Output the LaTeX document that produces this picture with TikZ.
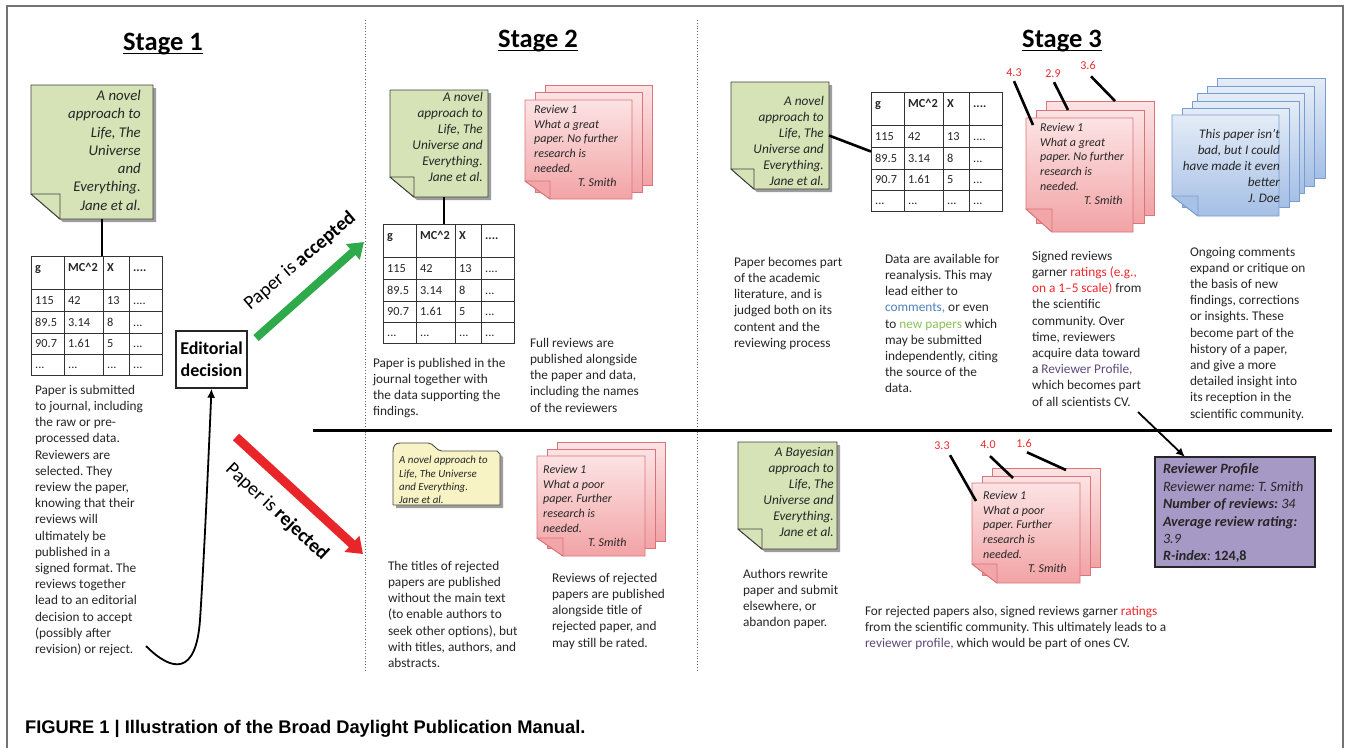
\documentclass[tikz,border=0pt]{standalone}
\usepackage{fontspec}
\setmainfont{Carlito}
\newfontfamily\capfont{Liberation Sans}
\usetikzlibrary{arrows.meta,shadows,fit}
\frenchspacing

\definecolor{notegreen}{HTML}{D5E3B6}
\definecolor{pinktop}{HTML}{FCE3E4}
\definecolor{pinkbot}{HTML}{F2A3A5}
\definecolor{pinkline}{HTML}{D9747A}
\definecolor{bluetop}{HTML}{E4ECF7}
\definecolor{bluebot}{HTML}{A5BFE5}
\definecolor{blueline}{HTML}{7A9DD1}
\definecolor{folderyellow}{HTML}{F7F3C4}
\definecolor{profilefill}{HTML}{A699C5}
\definecolor{acceptgreen}{HTML}{2EAA4A}
\definecolor{rejectred}{HTML}{E8262A}
\definecolor{ratingred}{HTML}{F0282D}
\definecolor{linkblue}{HTML}{4F81BD}
\definecolor{linkgreen}{HTML}{8DC05A}
\definecolor{linkpurple}{HTML}{604A7B}
\definecolor{bodytext}{HTML}{262626}

\newcommand\fs[2]{\fontsize{#1}{#2}\selectfont}

% sheet of paper with a folded bottom-left corner, drawn around a node
\newcommand\foldsheet[5]{%
  \path[#2] (#1.north west) -- (#1.north east) -- (#1.south east)
    -- ([xshift=#4]#1.south west) -- ([yshift=#5]#1.south west) -- cycle;
  \path[#3] ([yshift=#5]#1.south west) -- ([xshift=#4,yshift=#5]#1.south west)
    -- ([xshift=#4]#1.south west) -- cycle;
}

% one row of a data table
\newcommand\tabrow[7]{%
  \node[cell] (#1-#2a) at ([xshift=4pt,yshift=-#3pt]#1.north west) {#4};
  \node[cell] (#1-#2b) at ([xshift=37pt,yshift=-#3pt]#1.north west) {#5};
  \node[cell] (#1-#2c) at ([xshift=76pt,yshift=-#3pt]#1.north west) {#6};
  \node[cell] (#1-#2d) at ([xshift=102pt,yshift=-#3pt]#1.north west) {#7};
}

% the small data table
\newcommand\datatable[3]{%
  \node[fit={(#2,#3) (#2+131,#3+119)}, box, draw=black!80, line width=1pt] (#1) {};
  \foreach \cx in {33,72,98}
    \draw[black!80, line width=1pt] ([xshift=\cx pt]#1.north west) -- ([xshift=\cx pt]#1.south west);
  \foreach \ry in {33,55,77,98}
    \draw[black!80, line width=1pt] ([yshift=-\ry pt]#1.north west) -- ([yshift=-\ry pt]#1.north east);
  \tabrow{#1}{h}{15}{\textbf{g}}{\textbf{MC\textasciicircum 2}}{\textbf{X}}{\textbf{....}}
  \tabrow{#1}{r1}{48}{115}{42}{13}{....}
  \tabrow{#1}{r2}{70}{89.5}{3.14}{8}{...}
  \tabrow{#1}{r3}{91.5}{90.7}{1.61}{5}{...}
  \tabrow{#1}{r4}{112.5}{...}{...}{...}{...}
}

\tikzset{
  box/.style={inner sep=0pt, outer sep=0pt},
  cell/.style={inner sep=0pt, anchor=base west, text=bodytext, font=\fs{12.3}{14}},
  txt/.style={inner sep=0pt, outer sep=0pt, align=left, anchor=north west, text=bodytext, font=\fs{13.3}{16.2}},
  notetxt/.style={inner sep=0pt, align=right, anchor=north east, text=bodytext, font=\fs{13.3}{16}\itshape},
  revtxt/.style={inner sep=0pt, align=left, anchor=north west, text=bodytext, font=\fs{12}{14.7}\itshape},
  stagetitle/.style={inner sep=0pt, anchor=base, font=\fs{26.5}{30}\bfseries},
  notefill/.style={fill=notegreen, draw=black!75, line width=0.9pt, line join=round,
    drop shadow={shadow xshift=3pt, shadow yshift=-3pt, fill=black!45, opacity=.85}},
  notefold/.style={fill=notegreen, draw=black!75, line width=0.9pt, line join=round},
  pinksheet/.style={top color=pinktop, bottom color=pinkbot, draw=pinkline, line width=0.9pt},
  pinkfold/.style={fill=pinkbot!95!pinktop, draw=pinkline, line width=0.9pt, line join=round},
  bluesheet/.style={top color=bluetop, bottom color=bluebot, draw=blueline, line width=0.9pt},
  bluefold/.style={fill=bluebot!95!bluetop, draw=blueline, line width=0.9pt, line join=round},
  link/.style={line width=2.6pt, black},
  rating/.style={inner sep=0pt, text=ratingred, font=\fs{12}{14}},
  thinarrow/.style={line width=1.8pt, black, -{Latex[length=9pt,width=8pt]}},
}

\begin{document}
\begin{tikzpicture}[x=1pt,y=-1pt]
\useasboundingbox (0,0) rectangle (1350,748);
\fill[white] (0,0) rectangle (1350,748);

% outer frame, separators
\draw[black!55, line width=1.6pt] (7,748) -- (7,6) -- (1343,6) -- (1343,748);
\draw[black!60, dotted, line width=0.8pt] (365,20) -- (365,672);
\draw[black!60, dotted, line width=0.8pt] (697,20) -- (697,672);
\draw[black, line width=3pt] (313,430) -- (1332,430);

% stage titles
\node[stagetitle] (st1) at (163,50) {Stage 1};
\node[stagetitle] (st2) at (538,47) {Stage 2};
\node[stagetitle] (st3) at (1062,47) {Stage 3};
\foreach \s in {st1,st2,st3}
  \draw[line width=1.8pt] ([yshift=-3.5pt]\s.base west) -- ([yshift=-3.5pt]\s.base east);

% ---------------- Stage 1 ----------------
\node[fit={(31,85) (153,219)}, box] (n1) {};
\foldsheet{n1}{notefill}{notefold}{29pt}{25pt}
\node[notetxt, font=\fs{14.8}{18.3}\itshape] (n1t) at (141,90)
  {A novel\\approach to\\Life, The\\Universe\\and\\Everything.\\Jane et al.};
\datatable{tab1}{31}{256}
\draw[link] ([xshift=10pt]n1.south) -- ([xshift=10pt]n1.south |- tab1.north);

\node[txt] (t1) at (35,385) {Paper is submitted\\to journal, including\\the raw or pre-\\processed data.\\Reviewers are\\selected. They\\review the paper,\\knowing that their\\reviews will\\ultimately be\\published in a\\signed format. The\\reviews together\\lead to an editorial\\decision to accept\\(possibly after\\revision) or reject.};

\node[draw=black!85, line width=1.4pt, minimum width=71pt, minimum height=57pt, inner sep=0pt,
      align=center, font=\fs{18}{22}\bfseries] (ed) at (211.5,359.5) {Editorial\\decision};

\coordinate (loopstart) at (146,646);
\draw[thinarrow] (loopstart) .. controls (172,672) and (196,676) .. (200,620)
  .. controls (204,560) and (208,470) .. (ed.south);

\coordinate (accfrom) at (256,338);
\coordinate (accto) at (364,242);
\draw[acceptgreen, line width=8pt, -{Triangle[length=15pt,width=20pt]}] (accfrom) -- (accto);
\node[inner sep=0pt, rotate=40.5, font=\fs{19.5}{22}] (acc) at (300,261) {Paper is \textbf{accepted}};

\coordinate (rejfrom) at (236,437);
\coordinate (rejto) at (363,554);
\draw[rejectred, line width=9pt, -{Triangle[length=15pt,width=21pt]}] (rejfrom) -- (rejto);
\node[inner sep=0pt, rotate=-43, font=\fs{19.5}{22}] (rej) at (277,512) {Paper is \textbf{rejected}};

% ---------------- Stage 2, accepted ----------------
\node[fit={(390,90) (488,197)}, box] (n2) {};
\foldsheet{n2}{notefill}{notefold}{24pt}{20pt}
\node[notetxt] (n2t) at (483,92) {A novel\\approach to\\Life, The\\Universe and\\Everything.\\Jane et al.};
\datatable{tab2}{383}{224}
\draw[link] ([xshift=5pt]n2.south) -- ([xshift=5pt]n2.south |- tab2.north);

\node[fit={(545,85) (652,185)}, box] (p2c) {};
\node[fit={(535,92) (642,192)}, box] (p2b) {};
\node[fit={(525,100) (632,199)}, box] (p2a) {};
\path[pinksheet] (p2c.north west) rectangle (p2c.south east);
\path[pinksheet] (p2b.north west) rectangle (p2b.south east);
\foldsheet{p2a}{pinksheet}{pinkfold}{25pt}{18pt}
\node[revtxt] (p2t) at (534,105) {Review 1\\What a great\\paper. No further\\research is\\needed.\\\hspace*{44pt}T. Smith};

\node[txt] (t2a) at (373,358) {Paper is published in the\\journal together with\\the data supporting the\\findings.};
\node[txt] (t2b) at (530,338) {Full reviews are\\published alongside\\the paper and data,\\including the names\\of the reviewers};

% ---------------- Stage 2, rejected ----------------
\path[fill=folderyellow, draw=black!70, line width=0.9pt, line join=round,
      drop shadow={shadow xshift=3pt, shadow yshift=-3pt, fill=black!45, opacity=.85}]
  (393,505) -- (393,452) .. controls (393,446) and (395,443) .. (400,443) -- (428,443)
  .. controls (434,443) and (436,451) .. (442,451) -- (497,451) -- (500,454) -- (500,505) -- cycle;
\node[revtxt, font=\fs{10.9}{13.3}\itshape] (fldt) at (399,456) {A novel approach to\\Life, The Universe\\and Everything.\\Jane et al.};

\node[fit={(557,442) (665,541)}, box] (q2c) {};
\node[fit={(547,449) (655,548)}, box] (q2b) {};
\node[fit={(537,456) (645,556)}, box] (q2a) {};
\path[pinksheet] (q2c.north west) rectangle (q2c.south east);
\path[pinksheet] (q2b.north west) rectangle (q2b.south east);
\foldsheet{q2a}{pinksheet}{pinkfold}{26pt}{18pt}
\node[revtxt] (q2t) at (543,465) {Review 1\\What a poor\\paper. Further\\research is\\needed.\\\hspace*{45pt}T. Smith};

\node[txt] (t2c) at (388,561) {The titles of rejected\\papers are published\\without the main text\\(to enable authors to\\seek other options), but\\with titles, authors, and\\abstracts.};
\node[txt] (t2d) at (552,573) {Reviews of rejected\\papers are published\\alongside title of\\rejected paper, and\\may still be rated.};

% ---------------- Stage 3, accepted ----------------
\node[fit={(731,82) (829,189)}, box] (n3) {};
\foldsheet{n3}{notefill}{notefold}{23pt}{20pt}
\node[notetxt] (n3t) at (824,96) {A novel\\approach to\\Life, The\\Universe and\\Everything.\\Jane et al.};
\datatable{tab3}{871}{92}
\draw[link] (n3.east) -- (tab3.west);

\node[fit={(1046,101) (1154,215)}, box] (p3c) {};
\node[fit={(1036,110) (1144,223)}, box] (p3b) {};
\node[fit={(1026,118) (1133,232)}, box] (p3a) {};
\path[pinksheet] (p3c.north west) rectangle (p3c.south east);
\path[pinksheet] (p3b.north west) rectangle (p3b.south east);
\foldsheet{p3a}{pinksheet}{pinkfold}{26pt}{23pt}
\node[revtxt] (p3t) at (1040,123) {Review 1\\What a great\\paper. No further\\research is\\needed.\\\hspace*{44pt}T. Smith};

\node[rating] (r43) at (1014,73) {4.3};
\node[rating] (r29) at (1053,74) {2.9};
\node[rating] (r36) at (1088,65) {3.6};
\draw[link] ([yshift=-4pt]r43.south) -- ([xshift=7pt,yshift=-7pt]p3a.north west);
\draw[link] ([xshift=1pt,yshift=-4pt]r29.south) -- ([xshift=32pt]p3b.north west);
\draw[link] ([xshift=3pt,yshift=-7pt]r36.south) -- ([xshift=69pt]p3c.north west);

\node[fit={(1217,78) (1325,178)}, box] (b6) {};
\node[fit={(1207,86) (1314,186)}, box] (b5) {};
\node[fit={(1197,93) (1304,193)}, box] (b4) {};
\node[fit={(1192,101) (1299,201)}, box] (b3) {};
\node[fit={(1182,108) (1289,207)}, box] (b2) {};
\node[fit={(1172,115) (1279,216)}, box] (b1) {};
\foreach \b in {b6,b5,b4,b3,b2}
  \path[bluesheet] (\b.north west) rectangle (\b.south east);
\foldsheet{b1}{bluesheet}{bluefold}{26pt}{20pt}
\node[notetxt, font=\fs{13.1}{16}\itshape] (b1t) at (1280,129) {This paper isn’t\\bad, but I could\\have made it even\\better\\J. Doe};

\node[txt] (t3a) at (734,257) {Paper becomes part\\of the academic\\literature, and is\\judged both on its\\content and the\\reviewing process};
\node[txt] (t3b) at (885,254) {Data are available for\\reanalysis. This may\\lead either to\\{\color{linkblue}comments,} or even\\to {\color{linkgreen}new papers} which\\may be submitted\\independently, citing\\the source of the\\data.};
\node[txt] (t3c) at (1032,251) {Signed reviews\\garner {\color{ratingred}ratings (e.g.,}\\{\color{ratingred}on a 1–5 scale)} from\\the scientific\\community. Over\\time, reviewers\\acquire data toward\\a {\color{linkpurple}Reviewer Profile,}\\which becomes part\\of all scientists CV.};
\node[txt] (t3d) at (1190,247) {Ongoing comments\\expand or critique on\\the basis of new\\findings, corrections\\or insights. These\\become part of the\\history of a paper,\\and give a more\\detailed insight into\\its reception in the\\scientific community.};

% ---------------- Stage 3, rejected ----------------
\node[fit={(738,442) (837,549)}, box] (n4) {};
\foldsheet{n4}{notefill}{notefold}{24pt}{20pt}
\node[notetxt] (n4t) at (834,447) {A Bayesian\\approach to\\Life, The\\Universe and\\Everything.\\Jane et al.};

\node[fit={(992,468) (1100,567)}, box] (q3c) {};
\node[fit={(982,476) (1090,575)}, box] (q3b) {};
\node[fit={(972,483) (1080,583)}, box] (q3a) {};
\path[pinksheet] (q3c.north west) rectangle (q3c.south east);
\path[pinksheet] (q3b.north west) rectangle (q3b.south east);
\foldsheet{q3a}{pinksheet}{pinkfold}{25pt}{19pt}
\node[revtxt] (q3t) at (983,491) {Review 1\\What a poor\\paper. Further\\research is\\needed.\\\hspace*{45pt}T. Smith};

\node[rating] (r33) at (942,446) {3.3};
\node[rating] (r40) at (988,445) {4.0};
\node[rating] (r16) at (1024,443) {1.6};
\draw[link] ([xshift=8pt,yshift=-5pt]r33.south) -- ([xshift=4pt,yshift=-18pt]q3a.north west);
\draw[link] ([xshift=2pt,yshift=-7pt]r40.south) -- ([xshift=31pt,yshift=-2pt]q3b.north west);
\draw[link] ([xshift=3pt,yshift=-5pt]r16.south) -- ([xshift=74pt,yshift=-2pt]q3c.north west);

\node[txt] (t3e) at (743,569) {Authors rewrite\\paper and submit\\elsewhere, or\\abandon paper.};
\node[txt] (t3f) at (865,606) {For rejected papers also, signed reviews garner {\color{ratingred}ratings}\\from the scientific community. This ultimately leads to a\\{\color{linkpurple}reviewer profile,} which would be part of ones CV.};

% reviewer profile
\node[fit={(1155,457) (1315,567)}, box, fill=profilefill, draw=black!85, line width=1.5pt] (rp) {};
\node[txt, font=\fs{14.2}{17.4}] (rpt) at (1163,464) {\textbf{\textit{Reviewer Profile}}\\\textit{Reviewer name: T. Smith}\\\textbf{\textit{Number of reviews:}} \textit{34}\\\textbf{\textit{Average review rating:}}\\\textit{3.9}\\\textbf{\textit{R-index}}\textit{:} \textbf{124,8}};
\coordinate (cvfrom) at (1138,412);
\draw[thinarrow] (cvfrom) -- ([xshift=30pt]rp.north west);

% caption
\node[inner sep=0pt, anchor=base west, font=\capfont\bfseries\fs{18.3}{20}] (cap) at (25,733.5)
  {FIGURE 1 | Illustration of the Broad Daylight Publication Manual.};
\end{tikzpicture}
\end{document}
